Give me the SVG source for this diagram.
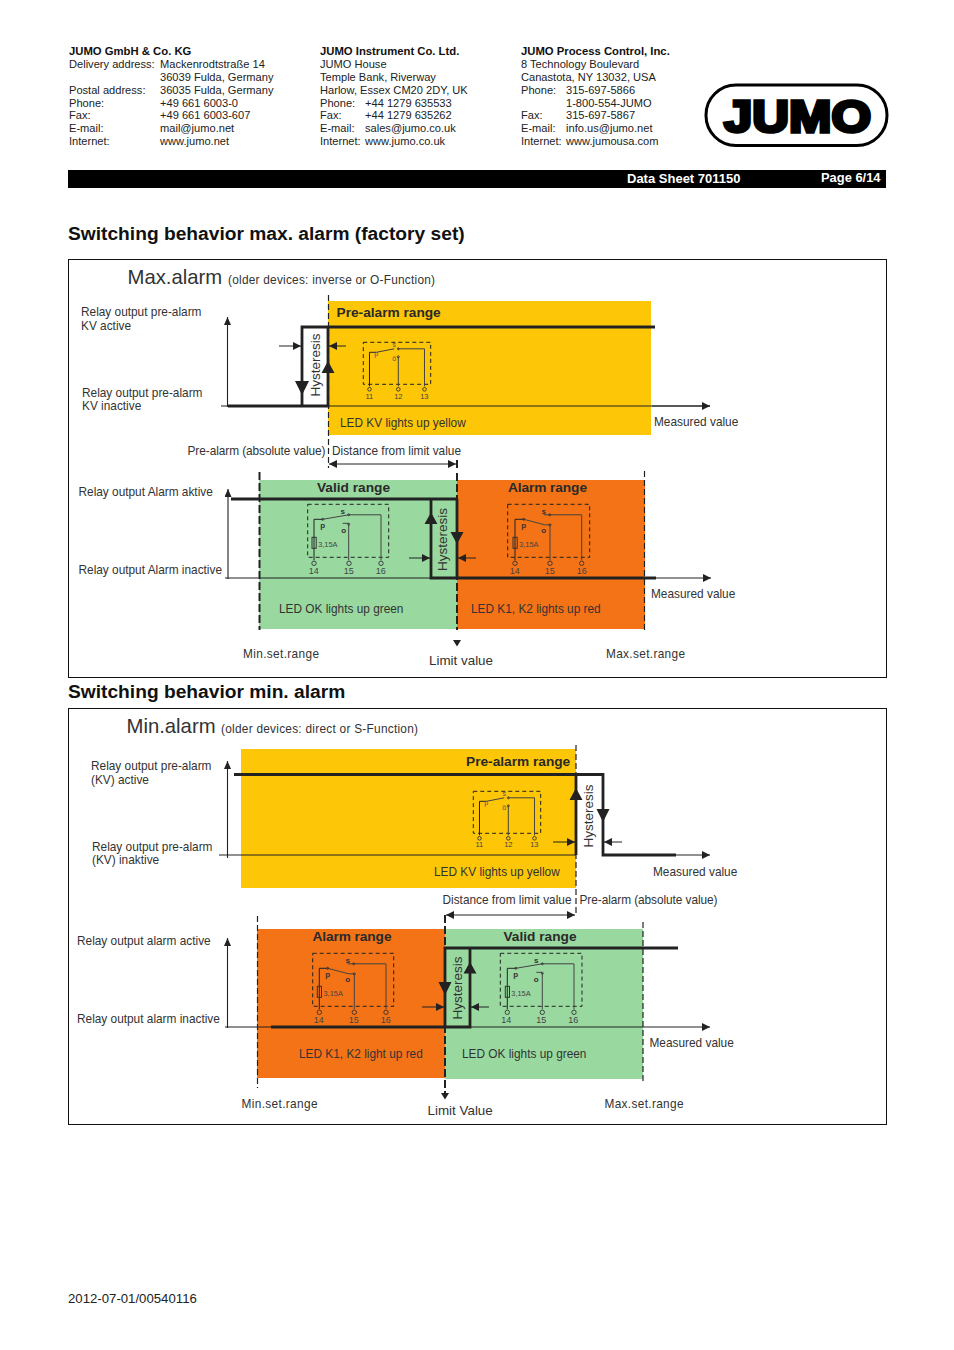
<svg xmlns="http://www.w3.org/2000/svg" width="954" height="1350" viewBox="0 0 954 1350">
<style>
text{font-family:"Liberation Sans",Arial,sans-serif;fill:#333}
.h{font-size:11.1px;fill:#222}
.hb{font-size:11.3px;font-weight:bold;fill:#111}
.t{font-size:11.85px}
.b{font-size:13.700px;font-weight:bold;fill:#2a2a2a}
.big{font-size:20.300px}
.hd{font-size:19.200px;font-weight:bold;fill:#111}
.hy{font-size:13.5px;text-anchor:middle}
.n{font-size:7.500px;text-anchor:middle;fill:#444}
.m{font-size:9px;text-anchor:middle;fill:#444}
.s{font-size:7px;text-anchor:middle;fill:#555}
.sb{font-size:8px;font-weight:bold;text-anchor:middle;fill:#333}
.fr{fill:none;stroke:#111;stroke-width:1}
.thin{fill:none;stroke:#222;stroke-width:1.2}
.thick{fill:none;stroke:#222;stroke-width:2.8}
.ax{fill:none;stroke:#222;stroke-width:1.1}
.arr{fill:none;stroke:#222;stroke-width:1;marker-end:url(#ah)}
.dim{fill:none;stroke:#222;stroke-width:1;marker-start:url(#as);marker-end:url(#ah)}
.axa{fill:none;stroke:#222;stroke-width:1.1;marker-end:url(#at)}
.lim{fill:none;stroke:#222;stroke-width:1.2;stroke-dasharray:6 3}
.limb{fill:none;stroke:#222;stroke-width:2;stroke-dasharray:8 3}
.dbox{fill:none;stroke:#222;stroke-width:1;stroke-dasharray:4 3}
.w{fill:none;stroke:#444;stroke-width:1}
.wd{fill:none;stroke:#222;stroke-width:1}
.c{fill:none;stroke:#333;stroke-width:.9}
.tri{fill:#222}
.y{fill:#fdc607}.g{fill:#99d9a0}.o{fill:#f37316}
</style>
<defs>
<marker id="ah" markerUnits="userSpaceOnUse" markerWidth="9" markerHeight="8" refX="8" refY="4" orient="auto"><path d="M0 0L8 4L0 8Z" fill="#222"/></marker>
<marker id="as" markerUnits="userSpaceOnUse" markerWidth="9" markerHeight="8" refX="0" refY="4" orient="auto"><path d="M8 0L0 4L8 8Z" fill="#222"/></marker>
<marker id="at" markerUnits="userSpaceOnUse" markerWidth="9" markerHeight="9" refX="8" refY="3.5" orient="auto"><path d="M0 0L8 3.5L0 7Z" fill="#222"/></marker>
</defs>

<g id="header">
<text class="hb" x="69" y="55">JUMO GmbH &amp; Co. KG</text>
<text class="h" x="69" y="68">Delivery address:</text><text class="h" x="160" y="68">Mackenrodtstraße 14</text>
<text class="h" x="160" y="81">36039 Fulda, Germany</text>
<text class="h" x="69" y="94">Postal address:</text><text class="h" x="160" y="94">36035 Fulda, Germany</text>
<text class="h" x="69" y="107">Phone:</text><text class="h" x="160" y="107">+49 661 6003-0</text>
<text class="h" x="69" y="119">Fax:</text><text class="h" x="160" y="119">+49 661 6003-607</text>
<text class="h" x="69" y="132">E-mail:</text><text class="h" x="160" y="132">mail@jumo.net</text>
<text class="h" x="69" y="145">Internet:</text><text class="h" x="160" y="145">www.jumo.net</text>
<text class="hb" x="320" y="55">JUMO Instrument Co. Ltd.</text>
<text class="h" x="320" y="68">JUMO House</text>
<text class="h" x="320" y="81">Temple Bank, Riverway</text>
<text class="h" x="320" y="94">Harlow, Essex CM20 2DY, UK</text>
<text class="h" x="320" y="107">Phone:</text><text class="h" x="365" y="107">+44 1279 635533</text>
<text class="h" x="320" y="119">Fax:</text><text class="h" x="365" y="119">+44 1279 635262</text>
<text class="h" x="320" y="132">E-mail:</text><text class="h" x="365" y="132">sales@jumo.co.uk</text>
<text class="h" x="320" y="145">Internet:</text><text class="h" x="365" y="145">www.jumo.co.uk</text>
<text class="hb" x="521" y="55">JUMO Process Control, Inc.</text>
<text class="h" x="521" y="68">8 Technology Boulevard</text>
<text class="h" x="521" y="81">Canastota, NY 13032, USA</text>
<text class="h" x="521" y="94">Phone:</text><text class="h" x="566" y="94">315-697-5866</text>
<text class="h" x="566" y="107">1-800-554-JUMO</text>
<text class="h" x="521" y="119">Fax:</text><text class="h" x="566" y="119">315-697-5867</text>
<text class="h" x="521" y="132">E-mail:</text><text class="h" x="566" y="132">info.us@jumo.net</text>
<text class="h" x="521" y="145">Internet:</text><text class="h" x="566" y="145">www.jumousa.com</text>
</g>
<g id="logo">
<rect x="706" y="85" width="181" height="60.500" rx="30" fill="none" stroke="#000" stroke-width="3"/>
<text x="724" y="131.500" font-size="45" font-weight="bold" textLength="147" lengthAdjust="spacingAndGlyphs" style="fill:#000;stroke:#000;stroke-width:3.500">JUMO</text>
</g>
<g id="title-bar">
<rect x="68" y="170" width="818" height="18" fill="#000"/>
<text x="627" y="183" font-size="13" font-weight="bold" style="fill:#fff">Data Sheet 701150</text>
<text x="821" y="182" font-size="12.900" font-weight="bold" style="fill:#fff">Page 6/14</text>
</g>
<text class="hd" x="68" y="240">Switching behavior max. alarm (factory set)</text>
<rect class="fr" x="68.500" y="259.500" width="818" height="418"/>
<text class="big" x="127.500" y="284">Max.alarm</text>
<text class="t" x="228" y="284" textLength="207">(older devices: inverse or O-Function)</text>

<g id="panel1-areas">
<rect class="y" x="328" y="301" width="323" height="134"/>
<rect x="302" y="327" width="26" height="79" fill="#fff"/>
<rect class="g" x="259" y="480" width="198" height="149"/>
<rect class="o" x="457" y="480" width="188" height="149"/>
</g>
<g id="connectors-1">
<path class="axa" d="M227.500 407V317"/>
<path class="thin" d="M221 406H710"/>
<path class="arr" d="M652 406H710"/>
<path class="thick" d="M228 406H302V327H655M302 327V406M328 327V406H228"/>
<path class="tri" d="M295 381H309L302 395ZM328 361L334.500 373H321.500Z"/>
<path class="arr" d="M279 346H301"/>
<path class="arr" d="M346 346H329"/>
<path class="lim" d="M328.500 295V468"/>
<path class="dim" d="M329 464H456"/>
<path d="M457 460V468" stroke="#222" stroke-width="2"/>
<path class="limb" d="M259.500 472V630"/>
<path class="limb" d="M457 473V630"/>
<path class="lim" d="M644.500 471V632"/>
<path class="axa" d="M228 579V489"/>
<path class="thin" d="M231 499H457"/>
<path class="thin" d="M225 578H431"/>
<path class="arr" d="M655 578H711"/>
<path class="thick" d="M231 499H457M431 499V578H656M457 499V578"/>
<path class="tri" d="M431 512.500L437.500 524H424.500ZM450.500 532H463.500L457 544ZM453 640H461L457 646.500Z"/>
<path class="arr" d="M409 558H430"/>
<path class="arr" d="M476 558H458"/>
</g>
<text class="hy" transform="translate(319.500 365) rotate(-90)">Hysteresis</text>
<text class="hy" transform="translate(446.500 539.500) rotate(-90)">Hysteresis</text>

<g id="relay-pre1" transform="translate(363.300 342.300)">
<rect class="dbox" width="67.400" height="42"/>
<path class="wd" d="M6.200 44V10H13"/><path class="w" d="M13 10L31 6.500M35 6.500H61.200V44M35 14.500V44"/>
<circle class="c" cx="6.200" cy="47" r="1.800"/><circle class="c" cx="35" cy="47" r="1.800"/><circle class="c" cx="61.200" cy="47" r="1.800"/>
<circle class="c" cx="35" cy="6.500" r="1"/><circle class="c" cx="35" cy="14.500" r="1"/>
<text class="s" x="31" y="5">s</text><text class="s" x="13" y="14">p</text><text class="s" x="31" y="19">ö</text>
<text class="n" x="6" y="57">11</text><text class="n" x="35" y="57">12</text><text class="n" x="61" y="57">13</text>
</g>
<g id="relay-valid1" transform="translate(307.700 504.300)">
<rect class="dbox" width="81" height="53"/>
<path class="wd" d="M6.300 56V15H15"/><path class="w" d="M15 15L41 10.500H73.300V56M41 20V56M35 19H41"/>
<rect x="4.300" y="33" width="4.200" height="11" fill="none" stroke="#333"/>
<circle class="c" cx="6.300" cy="59" r="2.200"/><circle class="c" cx="41.300" cy="59" r="2.200"/><circle class="c" cx="73.300" cy="59" r="2.200"/>
<circle class="c" cx="15" cy="15" r="1"/><circle class="c" cx="41" cy="10.500" r="1"/><circle class="c" cx="41" cy="20" r="1"/>
<text class="sb" x="35" y="10">s</text><text class="sb" x="15" y="24">p</text><text class="sb" x="36" y="29">o</text>
<text x="10.500" y="43" font-size="7.400" style="fill:#444">3,15A</text>
<text class="m" x="6" y="69.500">14</text><text class="m" x="41" y="69.500">15</text><text class="m" x="73" y="69.500">16</text>
</g>
<g id="relay-alarm1" transform="translate(507.700 504.300)">
<rect class="dbox" width="82" height="53"/>
<path class="wd" d="M7.300 56V15H16"/><path class="w" d="M16 15L37 20.500H42.300V56M36 10.500H74V56"/>
<rect x="5.300" y="33" width="4.200" height="11" fill="none" stroke="#333"/>
<circle class="c" cx="7.300" cy="59" r="2.200"/><circle class="c" cx="42.300" cy="59" r="2.200"/><circle class="c" cx="74" cy="59" r="2.200"/>
<circle class="c" cx="16" cy="15" r="1"/><circle class="c" cx="42" cy="10.500" r="1"/><circle class="c" cx="42.300" cy="20.500" r="1"/>
<text class="sb" x="36" y="9.500">s</text><text class="sb" x="16" y="24">p</text><text class="sb" x="36" y="29">o</text>
<text x="11.500" y="43" font-size="7.400" style="fill:#444">3,15A</text>
<text class="m" x="7" y="69.500">14</text><text class="m" x="42" y="69.500">15</text><text class="m" x="74" y="69.500">16</text>
</g>
<g id="labels-1">
<text class="t" x="81" y="316">Relay output pre-alarm</text><text class="t" x="81" y="330">KV active</text>
<text class="t" x="82" y="397">Relay output pre-alarm</text><text class="t" x="82" y="410">KV inactive</text>
<text class="b" x="336.500" y="317">Pre-alarm range</text>
<text class="t" x="340" y="427">LED KV lights up yellow</text>
<text class="t" x="654" y="426">Measured value</text>
<text class="t" x="187.500" y="455" textLength="138">Pre-alarm (absolute value)</text>
<text class="t" x="332" y="455">Distance from limit value</text>
<text class="t" x="78.500" y="496">Relay output Alarm aktive</text>
<text class="t" x="78.500" y="574">Relay output Alarm inactive</text>
<text class="b" x="317" y="492">Valid range</text>
<text class="b" x="508" y="492" textLength="79">Alarm range</text>
<text class="t" x="279" y="613">LED OK lights up green</text>
<text class="t" x="471" y="613">LED K1, K2 lights up red</text>
<text class="t" x="651" y="598">Measured value</text>
<text class="t" x="243" y="658" textLength="76">Min.set.range</text>
<text x="429" y="665" font-size="13.400">Limit value</text>
<text class="t" x="606" y="658" textLength="79">Max.set.range</text>
</g>

<text class="hd" x="68" y="698">Switching behavior min. alarm</text>
<rect class="fr" x="68.500" y="708.500" width="818" height="416"/>
<text class="big" x="126.500" y="733">Min.alarm</text>
<text class="t" x="221" y="733" textLength="197">(older devices: direct or S-Function)</text>

<g id="panel2-areas">
<rect class="y" x="241" y="749" width="335" height="139"/>
<rect x="576" y="774.500" width="27" height="80.500" fill="#fff"/>
<rect class="o" x="257" y="929" width="188" height="149"/>
<rect class="g" x="445" y="929" width="198" height="150"/>
</g>
<g id="connectors-2">
<path class="axa" d="M227.500 858V761"/>
<path class="thin" d="M219 855H576"/>
<path class="arr" d="M675 855H710"/>
<path class="thick" d="M234 774.500H603V855H676M576 774.500V855"/>
<path class="tri" d="M576 788L582.500 800H569.500ZM596.500 809H609.500L603 822Z"/>
<path class="arr" d="M553 842H575"/>
<path class="arr" d="M622 842H604"/>
<path class="lim" d="M576 745V915"/>
<path class="dim" d="M446 915H575"/>
<path class="lim" d="M257.500 916V1088"/>
<path class="limb" d="M445 915V1094"/>
<path class="lim" d="M643 922V1084"/>
<path class="axa" d="M227.500 1028V938"/>
<path class="thin" d="M225 1027H271"/>
<path class="arr" d="M470 1027H710"/>
<path class="thick" d="M271 1027H470V948H445V1027M470 948H678"/>
<path class="tri" d="M470 962L476.500 973.500H463.500ZM438.500 982H451.500L445 995ZM441 1093H449L445 1099.500Z"/>
<path class="arr" d="M422 1007H444"/>
<path class="arr" d="M489 1007H471"/>
</g>
<text class="hy" transform="translate(592.500 816) rotate(-90)">Hysteresis</text>
<text class="hy" transform="translate(461.500 988) rotate(-90)">Hysteresis</text>

<g id="relay-pre2" transform="translate(473.300 791.300)">
<rect class="dbox" width="67.400" height="42"/>
<path class="wd" d="M6.200 44V10H13"/><path class="w" d="M13 10L31 6.500M35 6.500H61.200V44M35 14.500V44"/>
<circle class="c" cx="6.200" cy="47" r="1.800"/><circle class="c" cx="35" cy="47" r="1.800"/><circle class="c" cx="61.200" cy="47" r="1.800"/>
<circle class="c" cx="35" cy="6.500" r="1"/><circle class="c" cx="35" cy="14.500" r="1"/>
<text class="s" x="31" y="5">s</text><text class="s" x="13" y="14">p</text><text class="s" x="31" y="19">ö</text>
<text class="n" x="6" y="56">11</text><text class="n" x="35" y="56">12</text><text class="n" x="61" y="56">13</text>
</g>
<g id="relay-alarm2" transform="translate(312.700 953.300)">
<rect class="dbox" width="81" height="53"/>
<path class="wd" d="M6.600 56V15H15"/><path class="w" d="M15 15L36 20.500H41.600V56M35 10.500H73.300V56"/>
<rect x="4.600" y="33" width="4.200" height="11" fill="none" stroke="#333"/>
<circle class="c" cx="6.600" cy="59" r="2.200"/><circle class="c" cx="41.600" cy="59" r="2.200"/><circle class="c" cx="73.300" cy="59" r="2.200"/>
<circle class="c" cx="15" cy="15" r="1"/><circle class="c" cx="41" cy="10.500" r="1"/><circle class="c" cx="41.600" cy="20.500" r="1"/>
<text class="sb" x="35" y="9.500">s</text><text class="sb" x="15" y="24">p</text><text class="sb" x="35" y="29">o</text>
<text x="10.800" y="43" font-size="7.400" style="fill:#444">3,15A</text>
<text class="m" x="6" y="69.500">14</text><text class="m" x="41" y="69.500">15</text><text class="m" x="73" y="69.500">16</text>
</g>
<g id="relay-valid2" transform="translate(500.300 953.300)">
<rect class="dbox" width="81.700" height="53"/>
<path class="wd" d="M7 56V15H15.500"/><path class="w" d="M15.500 15L42 10.500H73.700V56M42 20V56M36 19H42"/>
<rect x="5" y="33" width="4.200" height="11" fill="none" stroke="#333"/>
<circle class="c" cx="7" cy="59" r="2.200"/><circle class="c" cx="42" cy="59" r="2.200"/><circle class="c" cx="73.700" cy="59" r="2.200"/>
<circle class="c" cx="15.500" cy="15" r="1"/><circle class="c" cx="42" cy="10.500" r="1"/><circle class="c" cx="42" cy="20" r="1"/>
<text class="sb" x="36" y="10">s</text><text class="sb" x="15.500" y="24">p</text><text class="sb" x="36" y="29">o</text>
<text x="11" y="43" font-size="7.400" style="fill:#444">3,15A</text>
<text class="m" x="6" y="69.500">14</text><text class="m" x="41" y="69.500">15</text><text class="m" x="73" y="69.500">16</text>
</g>
<g id="labels-2">
<text class="t" x="91" y="770">Relay output pre-alarm</text><text class="t" x="91" y="784">(KV) active</text>
<text class="t" x="92" y="851">Relay output pre-alarm</text><text class="t" x="92" y="864">(KV) inaktive</text>
<text class="b" x="466" y="766">Pre-alarm range</text>
<text class="t" x="434" y="876">LED KV lights up yellow</text>
<text class="t" x="653" y="876">Measured value</text>
<text class="t" x="442.500" y="904">Distance from limit value</text>
<text class="t" x="579.500" y="904" textLength="138">Pre-alarm (absolute value)</text>
<text class="t" x="77" y="945">Relay output alarm active</text>
<text class="t" x="77" y="1023">Relay output alarm inactive</text>
<text class="b" x="312.500" y="941" textLength="79">Alarm range</text>
<text class="b" x="503.500" y="941">Valid range</text>
<text class="t" x="299" y="1058">LED K1, K2 light up red</text>
<text class="t" x="462" y="1058">LED OK lights up green</text>
<text class="t" x="649.500" y="1047">Measured value</text>
<text class="t" x="241.500" y="1108" textLength="76">Min.set.range</text>
<text x="427.500" y="1115" font-size="13.400">Limit Value</text>
<text class="t" x="604.500" y="1108" textLength="79">Max.set.range</text>
</g>
<text x="68" y="1303" font-size="13.200" style="fill:#222">2012-07-01/00540116</text>
</svg>
